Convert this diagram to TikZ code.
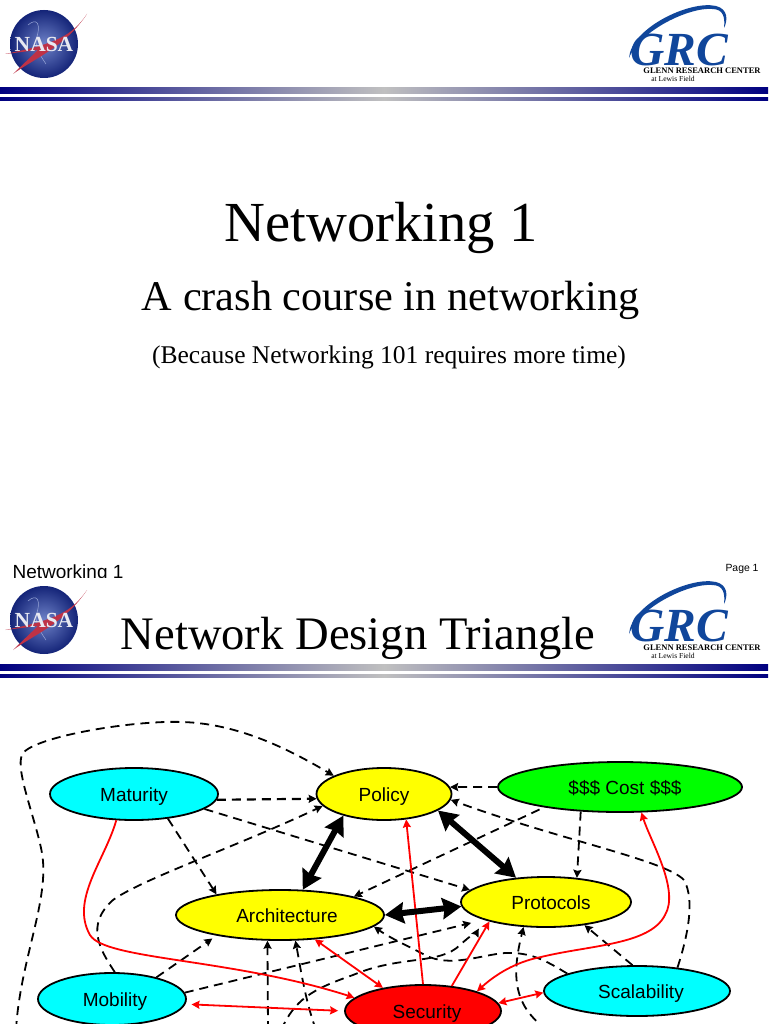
\documentclass[tikz,border=0pt]{standalone}
\usepackage{fontspec}
\setmainfont{Liberation Serif}
\setsansfont{Liberation Sans}
\usetikzlibrary{arrows.meta,shapes.geometric,positioning,calc}
\definecolor{nasablue}{RGB}{20,36,120}
\definecolor{nasalight}{RGB}{110,130,200}
\definecolor{nasared}{RGB}{190,50,70}
\definecolor{grcblue}{RGB}{16,70,155}
\definecolor{barblue}{RGB}{0,0,128}
\definecolor{bargrey}{RGB}{192,192,192}
\definecolor{topiccyan}{RGB}{0,255,255}
\definecolor{topicyellow}{RGB}{255,255,0}
\definecolor{topicgreen}{RGB}{0,255,0}
\definecolor{topicred}{RGB}{255,0,0}
\newcommand{\nudge}[1]{\hspace*{#1pt}}
\tikzset{
  topic/.style={ellipse,draw=black,line width=1.8pt,inner sep=0pt,text height=14pt,text depth=0pt,font=\sffamily\fontsize{19}{20}\selectfont},
  dashlink/.style={dash pattern=on 9pt off 6pt,line width=1.8pt,-{Stealth[length=8pt,width=8pt,inset=1pt]}},
  redlink/.style={topicred,line width=1.8pt,-{Stealth[length=8pt,width=8pt,inset=1pt]}},
  reddouble/.style={topicred,line width=1.8pt,{Stealth[length=8pt,width=8pt,inset=1pt]}-{Stealth[length=8pt,width=8pt,inset=1pt]}},
  fatlink/.style={line width=6pt,{Stealth[length=19pt,width=21pt,inset=2pt]}-{Stealth[length=19pt,width=21pt,inset=2pt]}},
  title/.style={anchor=base,inner sep=0pt}
}
\begin{document}
\begin{tikzpicture}[x=1pt,y=-1pt,line join=round]
\clip (0,0) rectangle (768,1024);
\fill[white] (0,0) rectangle (768,1024);
\node[title] (nw) at (381,241) {\fontsize{56.6}{60}\selectfont Networking 1};
\node[title] (crash) at (391,310) {\fontsize{42.3}{46}\selectfont A crash course in networking};
\node[title] (because) at (389,363) {\fontsize{25.5}{28}\selectfont (Because Networking 101 requires more time)};
\node[title] (foot) at (68,578) {\sffamily\fontsize{19}{21}\selectfont Networking 1};
\node[title] (page) at (742,571) {\sffamily\fontsize{10.4}{12}\selectfont Page 1};
\fill[white] (0,578) rectangle (768,1024);
\node[title] (design) at (358,649) {\fontsize{46.6}{50}\selectfont Network Design Triangle};
\foreach \dy in {0,576} {
\begin{scope}[yshift=-\dy pt]
\shade[left color=barblue,right color=barblue,middle color=bargrey] (0,88) rectangle (768,94);
\shade[left color=barblue,right color=barblue,middle color=bargrey] (0,98) rectangle (768,101);
\shade[inner color=nasalight,outer color=nasablue] (44,44) circle (34);
\draw[nasalight!70!white,line width=.5pt] (28,25) .. controls (36,18) and (42,22) .. (36,40) .. controls (36,50) and (42,58) .. (46,64);
\fill[nasared] (87,14) .. controls (72,36) and (55,44) .. (5,54) -- (38,50) -- (13,74) .. controls (35,58) and (65,47) .. (87,14) -- cycle;
\node[inner sep=0pt,text=white!90!nasablue] (nasa\dy) at (44,44) {\bfseries\fontsize{21.5}{22}\selectfont NASA};
\fill[grcblue] (629,58) .. controls (631,28) and (690,0) .. (716,6) .. controls (728,9) and (728,20) .. (724,28) .. controls (725,18) and (724,9) .. (712,9) .. controls (690,7) and (640,30) .. (629,58) -- cycle;
\node[inner sep=0pt,text=grcblue] (grc\dy) at (679,50) {\bfseries\itshape\fontsize{47.5}{50}\selectfont GRC};
\node[title] (glenn\dy) at (702,74) {\bfseries\fontsize{8.5}{9}\selectfont GLENN RESEARCH CENTER};
\node[title] (lewis\dy) at (673,82) {\fontsize{7.6}{8}\selectfont at Lewis Field};
\end{scope}
}
\node[topic,fill=topiccyan,minimum width=168pt,minimum height=52pt] (Maturity) at (134,794) {Maturity};
\node[topic,fill=topicyellow,minimum width=135pt,minimum height=52pt] (Policy) at (384,794) {Policy};
\node[topic,fill=topicgreen,minimum width=244pt,minimum height=50pt] (Cost) at (620,787) {\nudge{10}\$\$\$ Cost \$\$\$};
\node[topic,fill=topicyellow,minimum width=208pt,minimum height=50pt] (Architecture) at (280,915) {\nudge{14}Architecture};
\node[topic,fill=topicyellow,minimum width=170pt,minimum height=50pt] (Protocols) at (546,902) {\nudge{10}Protocols};
\node[topic,fill=topiccyan,minimum width=148pt,minimum height=52pt] (Mobility) at (112,999) {\nudge{6}Mobility};
\node[topic,fill=topicred,minimum width=156pt,minimum height=52pt] (Security) at (423,1011) {\nudge{8}Security};
\node[topic,fill=topiccyan,minimum width=186pt,minimum height=50pt] (Scalability) at (637,991) {\nudge{8}Scalability};
\coordinate (Loop) at (16,1030);
\coordinate (Below1) at (268,1030);
\coordinate (Below2) at (316,1030);
\coordinate (Below3) at (281,1030);
\coordinate (Below4) at (548,1030);
\draw[dashlink] (Loop) .. controls (20,960) and (50,900) .. (42,853) .. controls (36,820) and (15,770) .. (22,755) .. controls (28,738) and (130,720) .. (183,722) .. controls (240,724) and (290,750) .. (Policy.160);
\draw[dashlink,line width=2.2pt] (Maturity.-4) -- (Policy.184);
\draw[dashlink] (Maturity.-12) -- (Protocols.171);
\draw[dashlink] (Maturity.-36) -- (Architecture.162);
\draw[dashlink] (Mobility.84) .. controls (100,950) and (85,925) .. (113,900) .. controls (140,880) and (240,845) .. (Policy.191);
\draw[dashlink,shorten >=5pt] (Mobility.26) -- (Architecture.198);
\draw[dashlink,shorten >=13pt] (Mobility.5) -- (Protocols.196);
\draw[dashlink] (Cost.180) -- (Policy.6);
\draw[dashlink,shorten <=5pt] (Cost.195) -- (Architecture.14);
\draw[dashlink] (Cost.212) -- (Protocols.38);
\draw[dashlink] (Scalability.30) .. controls (688,935) and (695,900) .. (684,880) .. controls (665,860) and (560,840) .. (Policy.-5);
\draw[dashlink] (Scalability.100) -- (Protocols.-31);
\draw[dashlink] (Scalability.166) .. controls (545,960) and (530,952) .. (505,953) .. controls (480,955) and (450,968) .. (425,955) .. controls (410,947) and (390,938) .. (Architecture.-7);
\draw[dashlink] (Below1) -- (Architecture.244);
\draw[dashlink] (Below2) .. controls (305,1000) and (300,965) .. (Architecture.-59);
\draw[dashlink,shorten >=10pt] (Below3) .. controls (295,1000) and (310,990) .. (353,975) .. controls (400,955) and (440,965) .. (460,945) .. controls (470,936) and (478,930) .. (Protocols.196);
\draw[dashlink] (Below4) .. controls (510,1005) and (513,970) .. (Protocols.228);
\draw[redlink] (Maturity.236) .. controls (105,860) and (70,900) .. (90,935) .. controls (105,960) and (230,958) .. (Security.169);
\draw[reddouble,shorten <=6pt,shorten >=6pt] (Mobility.-4) -- (Security.180);
\draw[reddouble] (Architecture.-35) -- (Security.150);
\draw[redlink] (Security.90) -- (Policy.-49);
\draw[redlink] (Security.41) -- (Protocols.199);
\draw[reddouble] (Security.6) -- (Scalability.181);
\draw[reddouble] (Cost.-50) .. controls (650,840) and (680,890) .. (665,915) .. controls (650,945) and (590,945) .. (541,957) .. controls (515,962) and (495,975) .. (Security.20);
\draw[fatlink] (Policy.208) -- (Architecture.48);
\draw[fatlink] (Policy.-17) -- (Protocols.141);
\draw[fatlink] (Architecture.0) -- (Protocols.183);
\end{tikzpicture}
\end{document}
